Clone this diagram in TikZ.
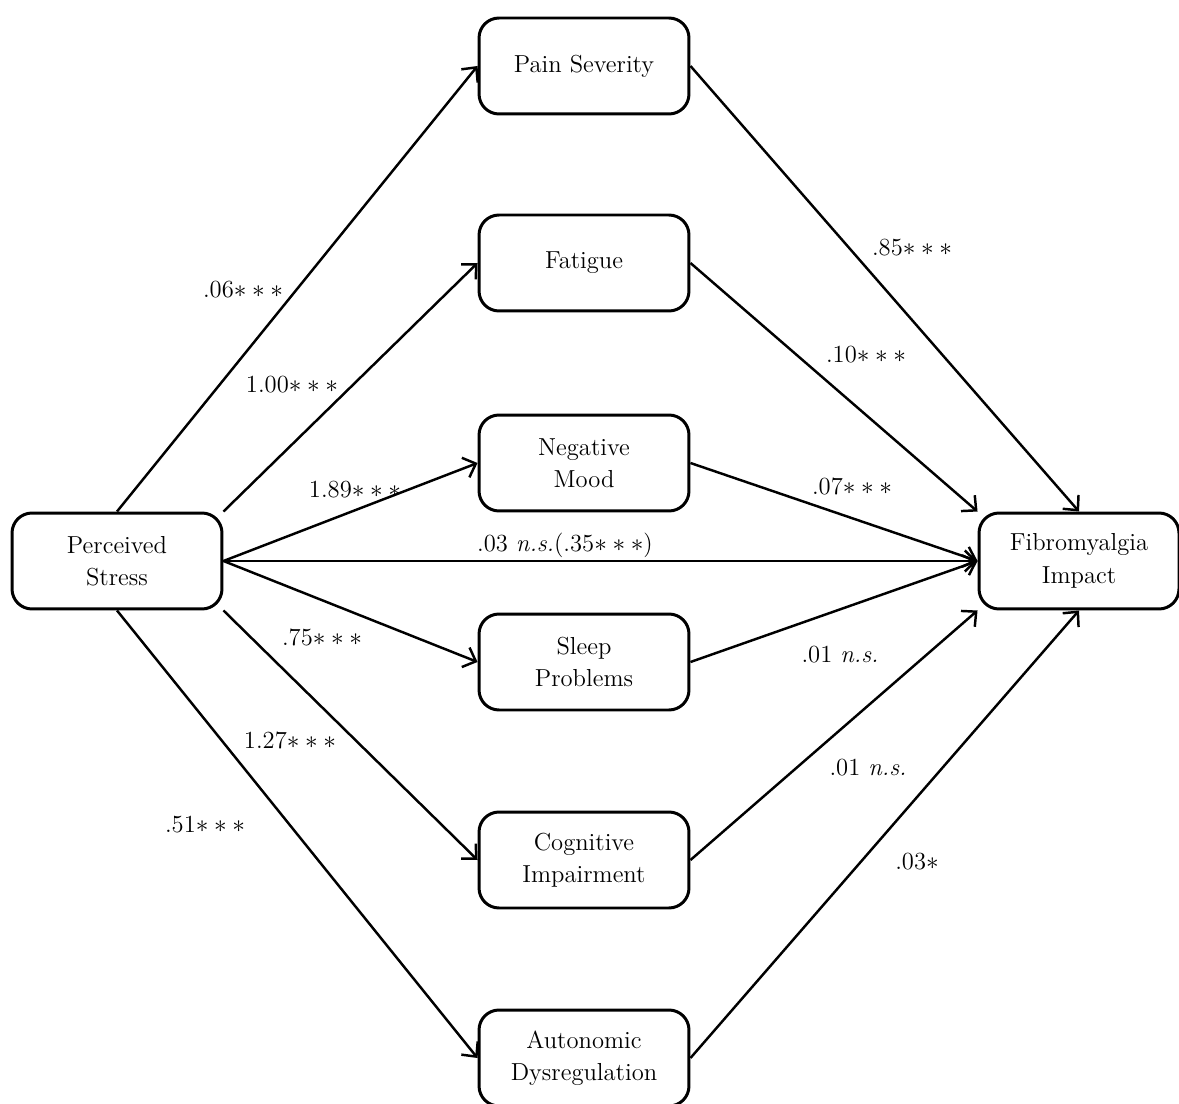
\documentclass[tikz,border=0pt]{standalone}
\usepackage{amsmath}
\usetikzlibrary{arrows.meta}

\begin{document}
\begin{tikzpicture}[x=0.02cm,y=-0.02cm,
  box/.style={draw,line width=1.7pt,rounded corners=0.4cm,minimum width=4.2cm,minimum height=1.92cm,align=center,font=\fontsize{14}{18.5}\selectfont},
  path/.style={line width=1.4pt,-{Straight Barb[length=0.22cm,width=0.42cm,line width=1.4pt]}},
  coef/.style={font=\fontsize{14}{17}\selectfont}]
\useasboundingbox (0,0) rectangle (1179,1104);
\node[box] (stress) at (117,561) {Perceived\\Stress};
\node[box,minimum width=4cm] (fibro) at (1079,561) {Fibromyalgia\\Impact};
\node[box] (pain) at (584,66) {Pain Severity};
\node[box] (fatigue) at (584,263) {Fatigue};
\node[box] (mood) at (584,463) {Negative\\Mood};
\node[box] (sleep) at (584,662) {Sleep\\Problems};
\node[box] (cog) at (584,860) {Cognitive\\Impairment};
\node[box] (auto) at (584,1058) {Autonomic\\Dysregulation};
% a paths
\draw[path] (stress.north) -- (pain.west);
\draw[path] (stress.north east) -- (fatigue.west);
\draw[path] (stress.east) -- (mood.west);
\draw[path] (stress.east) -- (sleep.west);
\draw[path] (stress.south east) -- (cog.west);
\draw[path] (stress.south) -- (auto.west);
% b paths
\draw[path] (pain.east) -- (fibro.north);
\draw[path] (fatigue.east) -- (fibro.north west);
\draw[path] (mood.east) -- (fibro.west);
\draw[path] (sleep.east) -- (fibro.west);
\draw[path] (cog.east) -- (fibro.south west);
\draw[path] (auto.east) -- (fibro.south);
% direct effect
\draw[path] (stress.east) -- (fibro.west);
\node[coef] (a1) at (243,290) {.06$\ast\ast\ast$};
\node[coef] (a2) at (292,385) {1.00$\ast\ast\ast$};
\node[coef] (a3) at (355,490) {1.89$\ast\ast\ast$};
\node[coef] (a4) at (322,637) {.75$\ast\ast\ast$};
\node[coef] (a5) at (290,740) {1.27$\ast\ast\ast$};
\node[coef] (a6) at (205,825) {.51$\ast\ast\ast$};
\node[coef] (c) at (565,545) {.03 \textit{n.s.}(.35$\ast\ast\ast$)};
\node[coef] (b1) at (912,248) {.85$\ast\ast\ast$};
\node[coef] (b2) at (866,355) {.10$\ast\ast\ast$};
\node[coef] (b3) at (852,486) {.07$\ast\ast\ast$};
\node[coef] (b4) at (840,655) {.01 \textit{n.s.}};
\node[coef] (b5) at (868,768) {.01 \textit{n.s.}};
\node[coef] (b6) at (917,862) {.03$\ast$};
\end{tikzpicture}
\end{document}
